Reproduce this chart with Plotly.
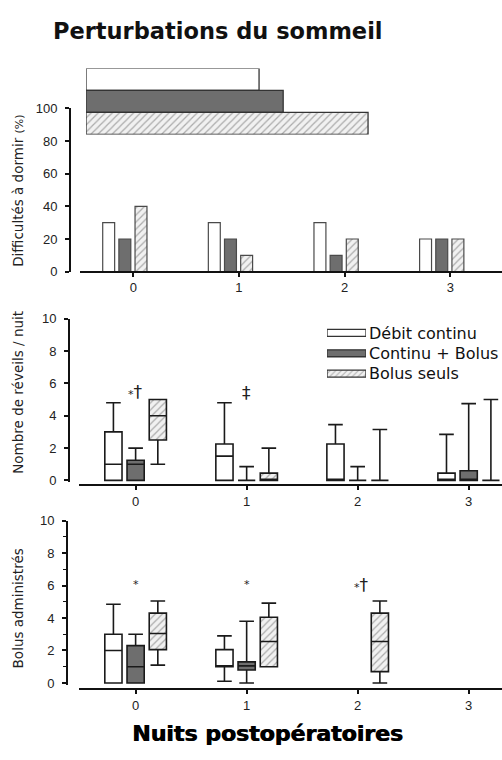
import plotly.graph_objects as go

# ---------------- data ----------------
nights = [0, 1, 2, 3]
series_names = ["Débit continu", "Continu + Bolus", "Bolus seuls"]

# Panel 1 : Difficultés à dormir (%)
diff_continu = [30, 30, 30, 20]
diff_cont_bolus = [20, 20, 10, 20]
diff_bolus = [40, 10, 20, 20]

# Panel 2 : Nombre de réveils / nuit (box stats per night 0..3)
rev_cont_lo = [0, 0, 0, 0]
rev_cont_q1 = [0, 0, 0, 0]
rev_cont_med = [1, 1.5, 0, 0]
rev_cont_q3 = [3, 2.25, 2.25, 0.45]
rev_cont_hi = [4.8, 4.8, 3.45, 2.85]

rev_cb_lo = [0, 0, 0, 0]
rev_cb_q1 = [0, 0, 0, 0]
rev_cb_med = [1, 0, 0, 0]
rev_cb_q3 = [1.25, 0, 0, 0.6]
rev_cb_hi = [2, 0.85, 0.85, 4.75]

rev_bol_lo = [1, 0, 0, 0]
rev_bol_q1 = [2.5, 0, 0, 0]
rev_bol_med = [4, 0, 0, 0]
rev_bol_q3 = [5, 0.45, 0, 0]
rev_bol_hi = [5, 2, 3.15, 5]

# Panel 3 : Bolus administrés
bol_nights_cont = [0, 1]
bol_cont_lo = [0, 0.1]
bol_cont_q1 = [0, 1]
bol_cont_med = [2, 1]
bol_cont_q3 = [3, 2.05]
bol_cont_hi = [4.85, 2.9]

bol_nights_cb = [0, 1]
bol_cb_lo = [0, 0]
bol_cb_q1 = [0, 0.8]
bol_cb_med = [1, 1.05]
bol_cb_q3 = [2.3, 1.3]
bol_cb_hi = [3, 3.8]

bol_nights_bol = [0, 1, 2]
bol_bol_lo = [1.1, 1, 0]
bol_bol_q1 = [2.05, 1, 0.7]
bol_bol_med = [3.05, 2.55, 2.55]
bol_bol_q3 = [4.3, 4.05, 4.3]
bol_bol_hi = [5.05, 4.92, 5.05]

# Decorative band at the top of panel 1 (relative lengths)
banner_len = [41.6, 47.4, 67.8]

# Significance marks: (panel, night, level, text)
sig_marks = [
    (2, 0, 5.45, "*†"),
    (2, 1, 5.4, "‡"),
    (3, 0, 6.05, "*"),
    (3, 1, 6.05, "*"),
    (3, 2, 6.05, "*†"),
]

# ---------------- styles ----------------
W, H = 502, 760
EDGE = "#1a1a1a"
FILLS = ["#ffffff", "#6e6e6e", "#f1f1f1"]
HATCH = dict(shape="/", fgcolor="#666666", bgcolor="#f1f1f1", size=5, solidity=0.25)
BOX_OFF = [-0.2, 0.0, 0.2]
BOX_W = 0.155
BAR_OFF = [-0.29, -0.137, 0.016]
BAR_W = 0.113


def px_x(p):
    return p / W


def px_y(p):
    return 1 - p / H


fig = go.Figure()

# ---------- panel 1 bars ----------
for i, vals in enumerate([diff_continu, diff_cont_bolus, diff_bolus]):
    marker = dict(color=FILLS[i], line=dict(color="#4a4a4a", width=1.2))
    if i == 2:
        marker["pattern"] = HATCH
    fig.add_trace(go.Bar(x=nights, y=vals, offset=BAR_OFF[i], width=BAR_W,
                         marker=marker, xaxis="x", yaxis="y", name=series_names[i],
                         hoverinfo="skip"))


# ---------- box helper ----------
def add_boxes(cats, lo, q1, med, q3, hi, i, xa, ya):
    xs = [c + BOX_OFF[i] for c in cats]
    if i == 2:
        fig.add_trace(go.Bar(x=xs, base=q1, y=[b - a for a, b in zip(q1, q3)], width=BOX_W,
                             marker=dict(color=FILLS[2], pattern=HATCH, line=dict(width=0)),
                             xaxis=xa, yaxis=ya, hoverinfo="skip"))
        fill = "rgba(0,0,0,0)"
    else:
        fill = FILLS[i]
    fig.add_trace(go.Box(x=xs, lowerfence=lo, q1=q1, median=med, q3=q3, upperfence=hi,
                         width=BOX_W, whiskerwidth=0.85, fillcolor=fill,
                         line=dict(color=EDGE, width=1.6), boxpoints=False,
                         xaxis=xa, yaxis=ya, name=series_names[i], hoverinfo="skip"))


add_boxes(nights, rev_cont_lo, rev_cont_q1, rev_cont_med, rev_cont_q3, rev_cont_hi, 0, "x2", "y2")
add_boxes(nights, rev_cb_lo, rev_cb_q1, rev_cb_med, rev_cb_q3, rev_cb_hi, 1, "x2", "y2")
add_boxes(nights, rev_bol_lo, rev_bol_q1, rev_bol_med, rev_bol_q3, rev_bol_hi, 2, "x2", "y2")

add_boxes(bol_nights_cont, bol_cont_lo, bol_cont_q1, bol_cont_med, bol_cont_q3, bol_cont_hi, 0, "x3", "y3")
add_boxes(bol_nights_cb, bol_cb_lo, bol_cb_q1, bol_cb_med, bol_cb_q3, bol_cb_hi, 1, "x3", "y3")
add_boxes(bol_nights_bol, bol_bol_lo, bol_bol_q1, bol_bol_med, bol_bol_q3, bol_bol_hi, 2, "x3", "y3")

# ---------- top banner ----------
for i in range(3):
    marker = dict(color=FILLS[i], line=dict(color="#333333", width=1.3))
    if i == 2:
        marker["pattern"] = HATCH
    fig.add_trace(go.Bar(y=[i], x=[banner_len[i]], base=0, orientation="h", width=1,
                         marker=marker, xaxis="x4", yaxis="y4", hoverinfo="skip"))

# ---------- legend swatches (panel 2) ----------
for i in range(3):
    marker = dict(color=FILLS[i], line=dict(color="#333333", width=1.3))
    if i == 2:
        marker["pattern"] = dict(HATCH, size=4)
    fig.add_trace(go.Bar(y=[i], x=[1], base=0, orientation="h", width=0.34,
                         marker=marker, xaxis="x5", yaxis="y5", hoverinfo="skip"))

TICKFONT = dict(family="Liberation Sans, Arial", size=13, color="#222")


def xaxis(domain, rng, pos):
    return dict(domain=domain, range=rng, anchor="free", position=pos, showline=True,
                linecolor="#111", linewidth=2, ticks="outside", ticklen=4, tickwidth=1.5,
                tickcolor="#111", tickvals=nights, ticktext=[str(n) for n in nights],
                showgrid=False, zeroline=False, tickfont=TICKFONT, fixedrange=True)


def yaxis(domain, rng, pos, dtick, minor=False):
    d = dict(domain=domain, range=rng, anchor="free", position=pos, showline=True,
             linecolor="#111", linewidth=2, ticks="outside", ticklen=4, tickwidth=1.5,
             tickcolor="#111", dtick=dtick, tick0=0, showgrid=False, zeroline=False,
             tickfont=TICKFONT, ticklabelstandoff=5, fixedrange=True)
    if minor:
        d["minor"] = dict(dtick=1, tick0=0, ticks="outside", ticklen=3, tickwidth=1.2,
                          tickcolor="#111", showgrid=False)
    return d


fig.update_layout(
    width=W, height=H, margin=dict(l=0, r=0, t=0, b=0),
    paper_bgcolor="white", plot_bgcolor="rgba(0,0,0,0)",
    showlegend=False, barmode="overlay", boxmode="overlay",
    xaxis=xaxis([px_x(80), 1], [-0.505, 3.49], px_y(270)),
    yaxis=yaxis([px_y(270), px_y(103.3)], [0, 100], px_x(70), 20),
    xaxis2=xaxis([px_x(79), 1], [-0.51, 3.30], px_y(488)),
    yaxis2=yaxis([px_y(484.6), px_y(318)], [-0.1, 10], px_x(69), 2),
    xaxis3=xaxis([px_x(79), 1], [-0.51, 3.30], px_y(696)),
    yaxis3=yaxis([px_y(691.2), px_y(524)], [-0.1, 10], px_x(67), 2, minor=True),
    xaxis4=dict(domain=[px_x(86), 1], range=[0, 100], anchor="y4", visible=False, fixedrange=True),
    yaxis4=dict(domain=[px_y(130), px_y(62.7)], range=[2.5, -0.5], anchor="x4", visible=False,
                fixedrange=True),
    xaxis5=dict(domain=[px_x(327), px_x(366)], range=[0, 1], anchor="y5", visible=False,
                fixedrange=True),
    yaxis5=dict(domain=[px_y(384.4), px_y(322.1)], range=[2.5, -0.5], anchor="x5", side="right",
                tickvals=[0, 1, 2], ticktext=series_names, showline=False, ticks="",
                showgrid=False, zeroline=False, ticklabelstandoff=2, fixedrange=True,
                tickfont=dict(family="DejaVu Sans", size=16, color="#111")),
)

ann = []
ann.append(dict(text="Perturbations du sommeil", x=px_x(218), y=px_y(24), xref="paper", yref="paper",
                xanchor="center", yanchor="middle", showarrow=False,
                font=dict(family="DejaVu Sans", size=22.5, color="#111", weight="bold")))
ann.append(dict(text="Nuits postopératoires", x=px_x(267), y=px_y(741), xref="paper", yref="paper",
                xanchor="center", yanchor="middle", showarrow=False,
                font=dict(family="DejaVu Sans", size=22, color="#000", weight="bold",
                          shadow="0.8px 0px 0px #000")))
ytitles = [
    ('Difficultés à dormir <span style="font-size:11px">(%)</span>', 187.5),
    ("Nombre de réveils / nuit", 393.5),
    ("Bolus administrés", 613.5),
]
for t, yc in ytitles:
    ann.append(dict(text=t, x=px_x(18), y=px_y(yc), xref="paper", yref="paper", textangle=-90,
                    xanchor="center", yanchor="middle", showarrow=False,
                    font=dict(family="DejaVu Sans", size=13.5, color="#222")))

for panel, night, lvl, txt in sig_marks:
    xr, yr = ("x2", "y2") if panel == 2 else ("x3", "y3")
    parts = []
    for ch in txt:
        if ch == "*":
            parts.append('<span style="font-size:11px">*</span>')
        else:
            parts.append(ch)
    ann.append(dict(text="".join(parts), x=night, y=lvl, xref=xr, yref=yr, showarrow=False,
                    xanchor="center", yanchor="middle", xshift=4 if txt == "*†" and panel == 3 else 0,
                    font=dict(family="DejaVu Sans", size=17, color="#222")))

fig.update_layout(annotations=ann)
fig.write_html("out.html", config={"displayModeBar": False},
               post_script="document.body.style.margin='0';")
